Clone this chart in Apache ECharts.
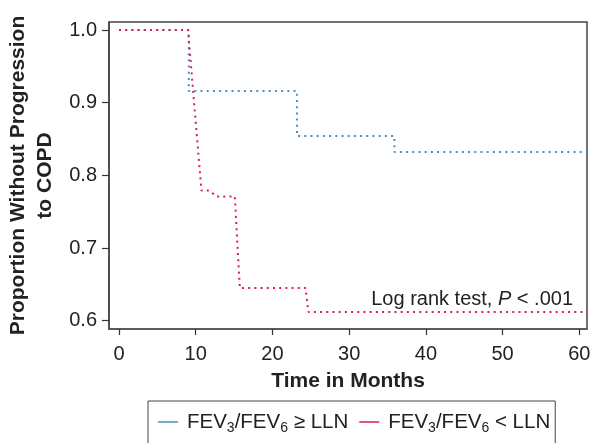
<!DOCTYPE html>
<html>
<head>
<meta charset="utf-8">
<script src="https://cdn.jsdelivr.net/npm/echarts@6/dist/echarts.min.js"></script>
<style>
  html, body { margin: 0; padding: 0; background: #fff; }
  #chart { width: 593px; height: 443px; }
</style>
</head>
<body>
<div id="chart"></div>
<script>
// Kaplan-Meier curves (months, proportion)
const monthsNormal = [0, 9.1, 9.1, 23.2, 23.2, 35.9, 35.9, 61];
const survNormal = [1.0, 1.0, 0.916, 0.916, 0.854, 0.854, 0.832, 0.832];
const monthsLow = [0, 9.0, 10.75, 11.8, 12.7, 15.1, 15.75, 24.3, 24.7, 61];
const survLow = [1.0, 1.0, 0.779, 0.779, 0.771, 0.771, 0.645, 0.645, 0.612, 0.612];

const xTicks = [0, 10, 20, 30, 40, 50, 60];
const yTicks = [0.6, 0.7, 0.8, 0.9, 1.0];
const seriesNames = ['FEV{sub|3}/FEV{sub|6} ≥ LLN', 'FEV{sub|3}/FEV{sub|6} < LLN'];
const pText = 'Log rank test, {i|P} < .001';

const blue = '#4a8fc0';
const red = '#d81e5b';
const font = 'Liberation Sans, Arial, Helvetica, sans-serif';

function pairs(xs, ys) {
  return xs.map((x, i) => [x, ys[i]]);
}

const myChart = echarts.init(document.getElementById('chart'));

const option = {
  backgroundColor: '#fff',
  animation: false,
  textStyle: { fontFamily: font },
  grid: {
    left: 109,
    right: 6,
    top: 22,
    bottom: 114,
    outerBoundsMode: 'none',
    containLabel: false,
    show: true,
    borderColor: '#444',
    borderWidth: 1.5
  },
  xAxis: {
    type: 'value',
    min: -1.3,
    max: 61,
    name: 'Time in Months',
    nameLocation: 'middle',
    nameGap: 42,
    nameTextStyle: { fontSize: 21, fontWeight: 'bold', color: '#222', fontFamily: font },
    axisLine: { show: true, onZero: false, lineStyle: { color: '#555', width: 1.5 } },
    axisTick: { show: true, length: 6, customValues: xTicks, lineStyle: { color: '#333', width: 1.2 } },
    axisLabel: { customValues: xTicks, fontSize: 20, color: '#222', margin: 15, fontFamily: font },
    splitLine: { show: false }
  },
  yAxis: {
    type: 'value',
    min: 0.5886,
    max: 1.011,
    name: 'Proportion Without Progression\nto COPD',
    nameLocation: 'middle',
    nameRotate: 90,
    nameGap: 50,
    nameTextStyle: { fontSize: 21, fontWeight: 'bold', color: '#222', lineHeight: 27, align: 'center', fontFamily: font },
    axisLine: { show: true, onZero: false, lineStyle: { color: '#444', width: 1.5 } },
    axisTick: { show: true, length: 7, customValues: yTicks, lineStyle: { color: '#333', width: 1.2 } },
    axisLabel: {
      customValues: yTicks,
      fontSize: 20,
      color: '#222',
      margin: 12,
      fontFamily: font,
      formatter: (v) => v.toFixed(1)
    },
    splitLine: { show: false }
  },
  legend: {
    left: 148,
    top: 401,
    orient: 'horizontal',
    padding: [8, 5, 12, 10],
    itemGap: 11,
    itemWidth: 20,
    itemHeight: 1.5,
    icon: 'rect',
    borderColor: '#444',
    borderWidth: 1,
    data: seriesNames,
    formatter: (name) => name,
    textStyle: {
      fontSize: 20.5,
      color: '#222',
      fontFamily: font,
      lineHeight: 26,
      padding: [0, 0, 0, 4],
      rich: {
        sub: { fontSize: 14, lineHeight: 16, verticalAlign: 'bottom', fontFamily: font, color: '#222' }
      }
    }
  },
  graphic: [
    {
      type: 'text',
      right: 20,
      top: 289,
      style: {
        text: pText,
        fontSize: 20,
        fill: '#222',
        fontFamily: font,
        rich: {
          i: { fontStyle: 'italic', fontSize: 20, fontFamily: font, fill: '#222' }
        }
      }
    }
  ],
  series: [
    {
      name: seriesNames[0],
      type: 'line',
      data: pairs(monthsNormal, survNormal),
      showSymbol: false,
      symbol: 'none',
      clip: true,
      itemStyle: { color: blue },
      lineStyle: { color: blue, width: 2, type: [2, 4.2] },
      z: 2
    },
    {
      name: seriesNames[1],
      type: 'line',
      data: pairs(monthsLow, survLow),
      showSymbol: false,
      symbol: 'none',
      clip: true,
      itemStyle: { color: red },
      lineStyle: { color: red, width: 2, type: [2, 4.2] },
      z: 3
    }
  ]
};

myChart.setOption(option);
</script>
</body>
</html>
